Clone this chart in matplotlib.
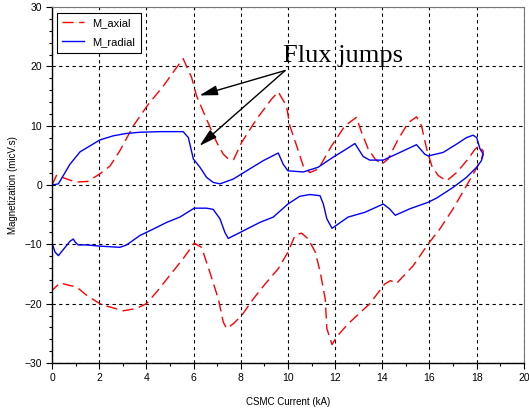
import matplotlib
matplotlib.use('Agg')
import matplotlib.pyplot as plt
from matplotlib.ticker import MultipleLocator

#M_axial loop : rising branch up to 18.3 kA then back down to 0
axial_x = [0, 0.2, 0.5, 1.0, 1.5, 2.0, 2.46, 2.88, 3.45, 4.08, 4.72, 5.28, 5.56, 5.92, 6.13,
           6.55, 6.98, 7.26, 7.5, 7.7, 8.04, 8.67, 9.31, 9.59, 9.94, 10.08, 10.37, 10.65, 10.93,
           11.29, 11.85, 12.42, 12.9, 13.12, 13.4, 13.69, 13.97, 14.25, 14.67, 15.1, 15.45,
           15.66, 15.88, 16.1, 16.37, 16.72, 17.15, 17.64, 17.92, 18.1, 18.28, 18.22, 18.0,
           17.57, 17.0, 16.44, 15.95, 15.31, 14.6, 14.35, 14.1, 13.47, 12.55, 12.06, 11.87,
           11.65, 11.58, 11.37, 11.16, 10.86, 10.58, 10.3, 10.0, 9.59, 9.05, 8.53, 8.04, 7.68,
           7.4, 7.26, 7.05, 6.69, 6.34, 6.03, 5.56, 5.0, 4.44, 4.0, 3.59, 3.02, 2.32, 2.03,
           1.47, 1.05, 0.62, 0.34, 0.0]
axial_y = [0, 1.7, 1.2, 0.5, 0.6, 1.8, 3.2, 5.8, 10.0, 13.6, 16.7, 19.8, 21.3, 18.1, 15.0,
           11.1, 7.2, 5.2, 4.3, 4.3, 7.2, 11.1, 14.5, 15.7, 13.3, 10.0, 6.6, 3.2, 2.1,
           2.7, 6.6, 10.0, 11.4, 8.9, 6.1, 4.4, 3.5, 4.4, 7.7, 10.5, 11.5,
           10.0, 6.1, 3.2, 1.6, 0.7, 2.1, 4.4, 6.0, 6.6, 5.7, 4.6, 2.9,
           -0.1, -4.0, -7.4, -9.9, -13.6, -16.6, -16.1, -16.7, -20.0, -23.4, -25.6, -26.9,
           -24.2, -19.2, -14.7, -11.3, -9.1, -8.1, -8.5, -11.3, -14.1, -16.6, -19.2, -22.0, -23.4,
           -24.2, -23.1, -19.2, -14.7, -10.5, -9.8, -12.4, -15.2, -18.0, -20.0, -20.8, -21.2, -20.4, -20.0,
           -18.6, -17.2, -16.8, -16.5, -17.8]

#M_radial loop
radial_x = [0, 0.27, 0.48, 0.76, 1.19, 1.61, 2.03, 2.6, 3.16, 3.73, 4.58, 5.56, 5.78, 5.99,
            6.27, 6.55, 6.83, 7.12, 7.68, 8.25, 8.95, 9.59, 9.8, 10.0, 10.65, 11.28, 11.92,
            12.49, 12.84, 13.19, 13.47, 14.04, 14.75, 15.45, 15.8, 15.95, 16.58, 17.15, 17.57,
            17.85, 18.0, 18.14, 18.28, 18.2, 18.0, 17.57, 17.0, 16.3, 15.95, 15.17, 14.55,
            14.3, 14.04, 13.26, 12.55, 11.87, 11.65, 11.5, 11.36, 10.93, 10.5, 10.0, 9.38,
            8.81, 7.97, 7.47, 7.33, 7.12, 6.83, 6.55, 6.03, 5.42, 4.86, 4.15, 3.73, 3.16, 2.88,
            2.03, 1.47, 1.11, 0.98, 0.9, 0.76, 0.27, 0.13, 0.0]
radial_y = [0, 0.2, 1.6, 3.5, 5.6, 6.6, 7.6, 8.3, 8.7, 8.9, 9.0, 9.0, 8.0, 4.4,
            3.0, 1.3, 0.45, 0.2, 1.0, 2.4, 4.1, 5.4, 3.5, 2.4, 2.2, 3.0, 4.7,
            6.1, 7.0, 4.8, 4.2, 4.2, 5.5, 6.8, 5.2, 4.9, 5.5, 6.9, 8.0,
            8.4, 8.0, 6.1, 5.2, 4.1, 3.0, 1.3, -0.4, -2.2, -2.9, -4.0, -5.1,
            -4.0, -3.2, -4.6, -5.4, -7.3, -5.7, -3.2, -1.8, -1.6, -1.9, -3.2, -5.4,
            -6.3, -8.0, -9.0, -8.0, -5.7, -4.1, -3.9, -3.9, -5.4, -6.3, -7.7, -8.5, -10.1, -10.5,
            -10.3, -10.1, -10.1, -9.6, -9.1, -9.5, -11.9, -11.3, -9.8]

#arrow tail / heads for the annotation
label_pos = (9.8, 21.8)
arrow_tail = (9.88, 19.3)
arrow_heads = [(6.25, 15.1), (6.25, 6.6)]

plt.rcParams['font.family'] = ['Liberation Sans', 'DejaVu Sans']

fig = plt.figure(figsize=(5.29, 4.11), dpi=100)
ax = fig.add_axes([0.0983, 0.1168, 0.892, 0.866])

ax.plot(axial_x, axial_y, color='red', lw=1.0, dashes=(8, 4), label='M_axial')
ax.plot(radial_x, radial_y, color='blue', lw=1.0, label='M_radial')

ax.set_xlim(0, 20)
ax.set_ylim(-30, 30)
ax.xaxis.set_major_locator(MultipleLocator(2))
ax.xaxis.set_minor_locator(MultipleLocator(1))
ax.yaxis.set_major_locator(MultipleLocator(10))
ax.yaxis.set_minor_locator(MultipleLocator(2))
ax.tick_params(which='major', direction='out', length=4, width=0.8, labelsize=7.5, pad=3)
ax.tick_params(which='minor', direction='out', length=2.5, width=0.8)
ax.tick_params(top=False, right=False)
ax.grid(True, which='major', color='black', linestyle=(0, (3, 3)), lw=0.8)
ax.set_axisbelow(True)

for s in ['top', 'right']:
    ax.spines[s].set_color('#777777')
    ax.spines[s].set_linewidth(0.8)
for s in ['left', 'bottom']:
    ax.spines[s].set_color('black')
    ax.spines[s].set_linewidth(1.0)

ax.set_xlabel('CSMC Current (kA)', fontsize=7, labelpad=10)
ax.set_ylabel('Magnetization (micV.s)', fontsize=7, labelpad=5)

leg = ax.legend(loc='upper left', bbox_to_anchor=(0.01, 0.984), borderaxespad=0,
                fontsize=8, handlelength=2.0, handletextpad=0.7, labelspacing=0.8,
                borderpad=0.5, fancybox=False, framealpha=1)
leg.get_frame().set_edgecolor('black')
leg.get_frame().set_linewidth(0.8)

ax.text(label_pos[0], label_pos[1], 'Flux jumps', family='Liberation Serif', fontsize=19,
        ha='left', va='center')
for head in arrow_heads:
    ax.annotate('', xy=head, xytext=arrow_tail,
                arrowprops=dict(arrowstyle='-|>,head_length=1.1,head_width=0.3',
                                color='black', lw=1.0, shrinkA=0, shrinkB=0))

plt.savefig('out.png', dpi=100)
